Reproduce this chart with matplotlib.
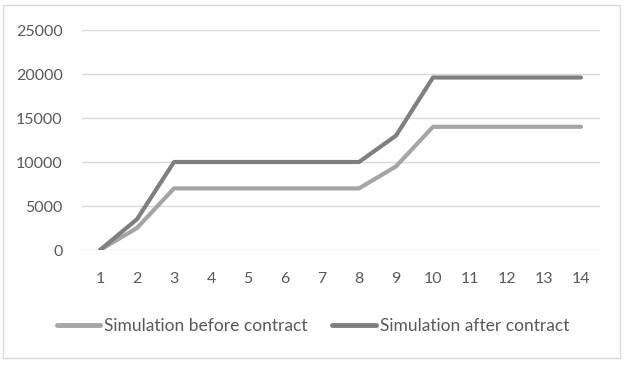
import matplotlib.pyplot as plt
from matplotlib.patches import Rectangle

# data
steps = list(range(1, 15))
before_contract = [0, 2500, 7000, 7000, 7000, 7000, 7000, 7000, 9500,
                   14000, 14000, 14000, 14000, 14000]
after_contract = [0, 3500, 10000, 10000, 10000, 10000, 10000, 10000, 13000,
                  19600, 19600, 19600, 19600, 19600]
y_ticks = [0, 5000, 10000, 15000, 20000, 25000]

W, H = 627, 365
plt.rcParams["font.family"] = ["Lato", "DejaVu Sans"]

fig = plt.figure(figsize=(W / 100, H / 100), dpi=100)
ax = fig.add_axes([81.5 / W, (H - 250) / H, (599.5 - 81.5) / W, 220 / H])

ax.plot(steps, before_contract, color="#A5A5A5", linewidth=3,
        solid_capstyle="round", label="Simulation before contract", zorder=3)
ax.plot(steps, after_contract, color="#7F7F7F", linewidth=3,
        solid_capstyle="round", label="Simulation after contract", zorder=3)

ax.set_xlim(0.5, 14.5)
ax.set_ylim(0, 25000)
ax.set_xticks(steps)
ax.set_yticks(y_ticks)
ax.tick_params(length=0, labelsize=11.5, labelcolor="#595959")
ax.tick_params(axis="y", pad=13.5)
ax.tick_params(axis="x", pad=16)
ax.grid(axis="y", color="#D9D9D9", linewidth=1)
ax.set_axisbelow(True)
for s in ax.spines.values():
    s.set_visible(False)

leg = fig.legend(loc="center", bbox_to_anchor=(313 / W, (H - 326) / H), ncol=2,
                 frameon=False, fontsize=12.5, handlelength=2.5,
                 handletextpad=0.25, columnspacing=1.4, labelcolor="#595959")
for line in leg.get_lines():
    line.set_linewidth(3.5)

# outer chart border
fig.patches.append(Rectangle((3 / W, (H - 358) / H), 617 / W, 353 / H,
                             transform=fig.transFigure, fill=False,
                             edgecolor="#D9D9D9", linewidth=1))

fig.savefig("out.png", dpi=100)
